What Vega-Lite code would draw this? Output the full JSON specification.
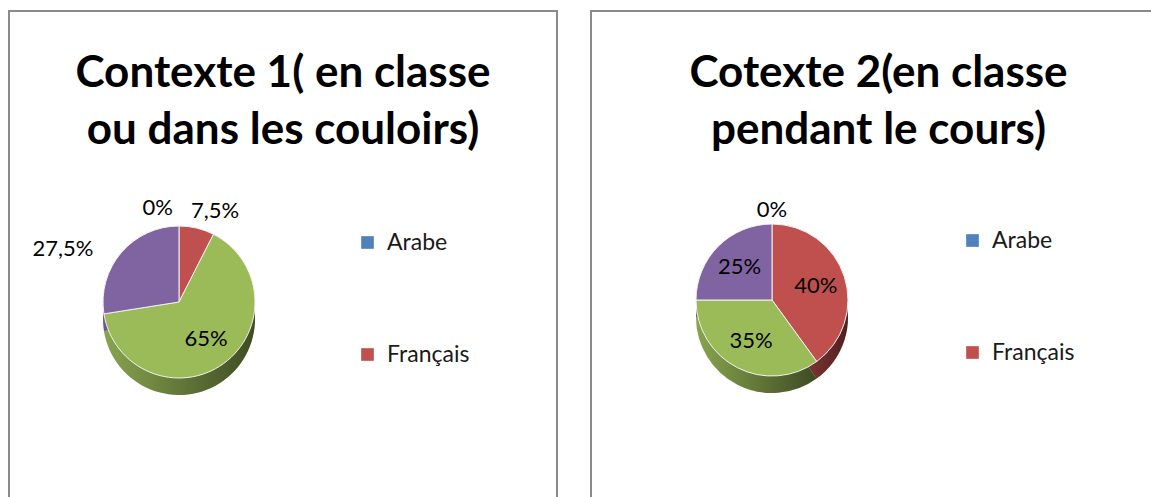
{
  "$schema": "https://vega.github.io/schema/vega-lite/v6.json",
  "padding": {"left": 8, "top": 10, "right": 0, "bottom": 0},
  "spacing": 32,
  "background": "white",
  "config": {
    "view": {"stroke": "#8a8a8a", "strokeWidth": 2},
    "font": "Lato",
    "legend": {
      "orient": "none",
      "title": null,
      "symbolType": "square",
      "symbolSize": 160,
      "symbolStrokeWidth": 0,
      "labelFont": "Lato",
      "labelFontSize": 23,
      "labelColor": "#1a1a1a",
      "rowPadding": 88,
      "padding": 0,
      "labelOffset": 8
    }
  },
  "datasets": {
    "parts": [
      {"contexte": "C1", "langue": "Arabe", "valeur": 0, "etiquette": "0%"},
      {"contexte": "C1", "langue": "Français", "valeur": 7.5, "etiquette": "7,5%"},
      {"contexte": "C1", "langue": "Catégorie 3", "valeur": 65, "etiquette": "65%"},
      {"contexte": "C1", "langue": "Catégorie 4", "valeur": 27.5, "etiquette": "27,5%"},
      {"contexte": "C2", "langue": "Arabe", "valeur": 0, "etiquette": "0%"},
      {"contexte": "C2", "langue": "Français", "valeur": 40, "etiquette": "40%"},
      {"contexte": "C2", "langue": "Catégorie 3", "valeur": 35, "etiquette": "35%"},
      {"contexte": "C2", "langue": "Catégorie 4", "valeur": 25, "etiquette": "25%"}
    ]
  },
  "resolve": {"legend": {"color": "independent"}},
  "hconcat": [
    {
      "width": 548,
      "height": 500,
      "view": {"stroke": "#8a8a8a", "strokeWidth": 2},
      "data": {"name": "parts"},
      "transform": [
        {"filter": "datum.contexte === 'C1'"},
        {"window": [{"op": "row_number", "as": "ordre"}]}
      ],
      "title": {
        "text": ["Contexte 1( en classe", "ou dans les couloirs)"],
        "font": "Lato", "fontSize": 44, "fontWeight": "bold", "color": "black",
        "anchor": "middle", "frame": "group", "offset": -142, "lineHeight": 57
      },
      "encoding": {
        "theta": {"field": "valeur", "type": "quantitative", "stack": true},
        "order": {"field": "ordre", "type": "quantitative"}
      },
      "layer": [
        {
          "mark": {"type": "arc", "radius": 76, "x": 170, "y": 308},
          "encoding": {
            "color": {"field": "langue", "type": "nominal",
              "scale": {"domain": ["Arabe", "Français", "Catégorie 3", "Catégorie 4"], "range": ["#4F81BD", "#C0504D", "#9BBB59", "#8064A2"]},
              "legend": {"values": ["Arabe", "Français"], "legendX": 347, "legendY": 220}}
          }
        },
        {
          "mark": {"type": "arc", "radius": 76, "x": 170, "y": 308,
            "fill": {"gradient": "linear", "x1": 0, "y1": 0, "x2": 1, "y2": 0,
              "stops": [{"offset": 0, "color": "rgba(0,0,0,0.12)"}, {"offset": 1, "color": "rgba(0,0,0,0.6)"}]}}
        },
        {
          "mark": {"type": "arc", "radius": 76, "x": 170, "y": 291, "stroke": "#f2f2f2", "strokeWidth": 1},
          "encoding": {
            "color": {"field": "langue", "type": "nominal"}
          }
        },
        {
          "mark": {"type": "text", "radius": 94, "x": 170, "y": 291, "align": "right", "dx": -6, "fontSize": 22, "font": "Lato", "color": "black"},
          "encoding": {"text": {"condition": {"test": "datum.valeur == 0", "field": "etiquette"}, "value": ""}}
        },
        {
          "mark": {"type": "text", "radius": 94, "x": 170, "y": 291, "align": "left", "dx": -10, "fontSize": 22, "font": "Lato", "color": "black"},
          "encoding": {"text": {"condition": {"test": "datum.valeur > 0 && datum.valeur < 10", "field": "etiquette"}, "value": ""}}
        },
        {
          "mark": {"type": "text", "radius": 94, "x": 170, "y": 291, "align": "right", "dx": -14, "dy": 8, "fontSize": 22, "font": "Lato", "color": "black"},
          "encoding": {"text": {"condition": {"test": "datum.valeur >= 10 && datum.valeur < 50", "field": "etiquette"}, "value": ""}}
        },
        {
          "mark": {"type": "text", "radius": 46, "x": 170, "y": 291, "fontSize": 22, "font": "Lato", "color": "black"},
          "encoding": {"text": {"condition": {"test": "datum.valeur >= 50", "field": "etiquette"}, "value": ""}}
        }
      ]
    },
    {
      "width": 575,
      "height": 500,
      "view": {"stroke": "#8a8a8a", "strokeWidth": 2},
      "data": {"name": "parts"},
      "transform": [
        {"filter": "datum.contexte === 'C2'"},
        {"window": [{"op": "row_number", "as": "ordre"}]}
      ],
      "title": {
        "text": ["Cotexte 2(en classe", "pendant le cours)"],
        "font": "Lato", "fontSize": 44, "fontWeight": "bold", "color": "black",
        "anchor": "middle", "frame": "group", "offset": -142, "lineHeight": 57
      },
      "encoding": {
        "theta": {"field": "valeur", "type": "quantitative", "stack": true},
        "order": {"field": "ordre", "type": "quantitative"}
      },
      "layer": [
        {
          "mark": {"type": "arc", "radius": 76, "x": 181, "y": 306},
          "encoding": {
            "color": {"field": "langue", "type": "nominal",
              "scale": {"domain": ["Arabe", "Français", "Catégorie 3", "Catégorie 4"], "range": ["#4F81BD", "#C0504D", "#9BBB59", "#8064A2"]},
              "legend": {"values": ["Arabe", "Français"], "legendX": 370, "legendY": 218}}
          }
        },
        {
          "mark": {"type": "arc", "radius": 76, "x": 181, "y": 306,
            "fill": {"gradient": "linear", "x1": 0, "y1": 0, "x2": 1, "y2": 0,
              "stops": [{"offset": 0, "color": "rgba(0,0,0,0.12)"}, {"offset": 1, "color": "rgba(0,0,0,0.6)"}]}}
        },
        {
          "mark": {"type": "arc", "radius": 76, "x": 181, "y": 289, "stroke": "#f2f2f2", "strokeWidth": 1},
          "encoding": {
            "color": {"field": "langue", "type": "nominal"}
          }
        },
        {
          "mark": {"type": "text", "radius": 90, "x": 181, "y": 289, "fontSize": 22, "font": "Lato", "color": "black"},
          "encoding": {"text": {"condition": {"test": "datum.valeur == 0", "field": "etiquette"}, "value": ""}}
        },
        {
          "mark": {"type": "text", "radius": 46, "x": 181, "y": 289, "fontSize": 22, "font": "Lato", "color": "black"},
          "encoding": {"text": {"condition": {"test": "datum.valeur > 0", "field": "etiquette"}, "value": ""}}
        }
      ]
    }
  ]
}
